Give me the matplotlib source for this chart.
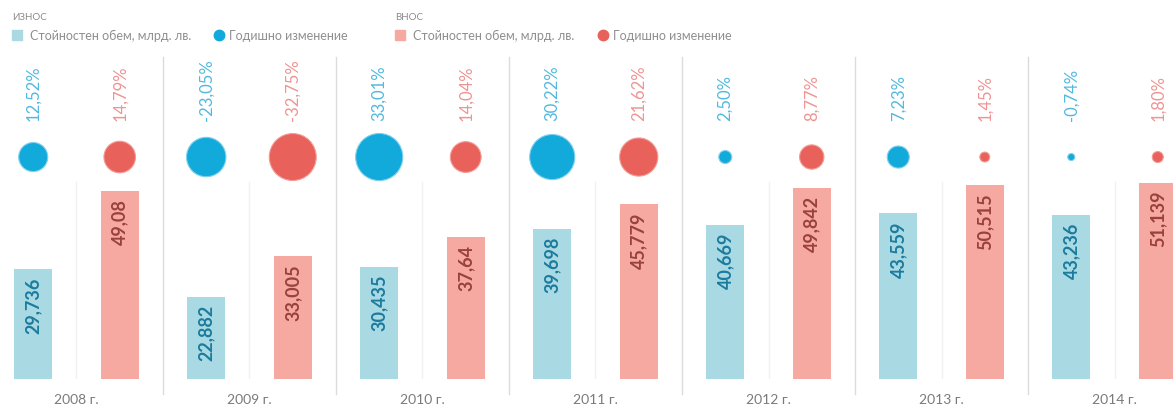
import matplotlib.pyplot as plt
from matplotlib import transforms
import numpy as np

# data
years = ['2008 г.', '2009 г.', '2010 г.', '2011 г.', '2012 г.', '2013 г.', '2014 г.']
export_values = [29.736, 22.882, 30.435, 39.698, 40.669, 43.559, 43.236]
import_values = [49.08, 33.005, 37.64, 45.779, 49.842, 50.515, 51.139]
export_change = [12.52, -23.05, 33.01, 30.22, 2.50, 7.23, -0.74]
import_change = [14.79, -32.75, 14.04, 21.62, 8.77, 1.45, 1.80]

BLUE_BAR = '#a9d9e2'
BLUE_DOT = '#12a9db'
BLUE_TXT = '#1b7b9e'
BLUE_PCT = '#52b9de'
RED_BAR = '#f5a9a1'
RED_DOT = '#e9615b'
RED_TXT = '#99413a'
RED_PCT = '#ee9492'
GRID = '#dcdcdc'

plt.rcParams['font.family'] = ['Lato', 'DejaVu Sans']


def fmt(v, decimals):
    return f'{v:.{decimals}f}'.replace('.', ',')


def fmt_value(v):
    s = f'{v:.3f}'.rstrip('0')
    return s.replace('.', ',')


fig = plt.figure(figsize=(11.73, 4.10), dpi=100)
ax = fig.add_axes([0, 30 / 410, 1, 318 / 410])
ax.set_xlim(-0.442, 6.338)
ax.set_ylim(2.65, 81.2)
ax.axis('off')

x = np.arange(len(years))
offset = 0.25
width = 0.22

# group separators and faint centre lines
for i in range(len(years) - 1):
    ax.axvline(i + 0.5, ymin=-0.047, ymax=1.013, color=GRID, lw=1.0,
               clip_on=False, zorder=0)
for i in x:
    ax.axvline(i, ymin=0, ymax=0.62, color='#f0f0f0', lw=1.0, zorder=0)

ax.bar(x - offset, export_values, width, color=BLUE_BAR, zorder=2)
ax.bar(x + offset, import_values, width, color=RED_BAR, zorder=2)

for xi, v in zip(x - offset, export_values):
    ax.annotate(fmt_value(v), (xi, v), xytext=(0, -5), textcoords='offset points',
                rotation=90, ha='center', va='top', fontsize=13,
                fontweight='bold', color=BLUE_TXT, zorder=3)
for xi, v in zip(x + offset, import_values):
    ax.annotate(fmt_value(v), (xi, v), xytext=(0, -5), textcoords='offset points',
                rotation=90, ha='center', va='top', fontsize=13,
                fontweight='bold', color=RED_TXT, zorder=3)

# yearly change bubbles, area proportional to |change|
trans = transforms.blended_transform_factory(ax.transData, ax.transAxes)
dot_y = 0.698
ax.scatter(x - offset, [dot_y] * len(x), s=[34.9 * abs(p) for p in export_change],
           color=BLUE_DOT, edgecolor='#7fd0ec', linewidth=0.8,
           transform=trans, clip_on=False, zorder=3)
ax.scatter(x + offset, [dot_y] * len(x), s=[34.9 * abs(p) for p in import_change],
           color=RED_DOT, edgecolor='#f39b96', linewidth=0.8,
           transform=trans, clip_on=False, zorder=3)

for xi, p in zip(x - offset, export_change):
    ax.text(xi, 0.815, fmt(p, 2) + '%', transform=trans, rotation=90,
            ha='center', va='bottom', fontsize=12, color=BLUE_PCT)
for xi, p in zip(x + offset, import_change):
    ax.text(xi, 0.815, fmt(p, 2) + '%', transform=trans, rotation=90,
            ha='center', va='bottom', fontsize=12, color=RED_PCT)

for xi, year in zip(x, years):
    ax.text(xi, -0.063, year, transform=trans, ha='center', va='center',
            fontsize=10, color='#7a7a7a')


# legend drawn in figure pixels
def px(xp, yp):
    return xp / 1173, 1 - yp / 410


def legend_block(x0, title, bar_color, dot_color, dot_x, text2_x):
    fig.text(*px(x0, 17), title, fontsize=7, color='#8a8a8a', va='center')
    fig.patches.append(plt.Rectangle(px(x0, 41), 10 / 1173, 10 / 410,
                                     transform=fig.transFigure,
                                     color=bar_color))
    fig.text(*px(x0 + 18, 36), 'Стойностен обем, млрд. лв.', fontsize=9,
             color='#8f8f8f', va='center')
    fig.lines.append(plt.Line2D([dot_x / 1173], [1 - 36 / 410], marker='o',
                                markersize=7.5, color=dot_color,
                                transform=fig.transFigure))
    fig.text(*px(text2_x, 36), 'Годишно изменение', fontsize=9,
             color='#8f8f8f', va='center')


legend_block(12, 'ИЗНОС', BLUE_BAR, BLUE_DOT, 219, 229)
legend_block(395, 'ВНОС', RED_BAR, RED_DOT, 603, 613)

fig.savefig('out.png', dpi=100, facecolor='white')
